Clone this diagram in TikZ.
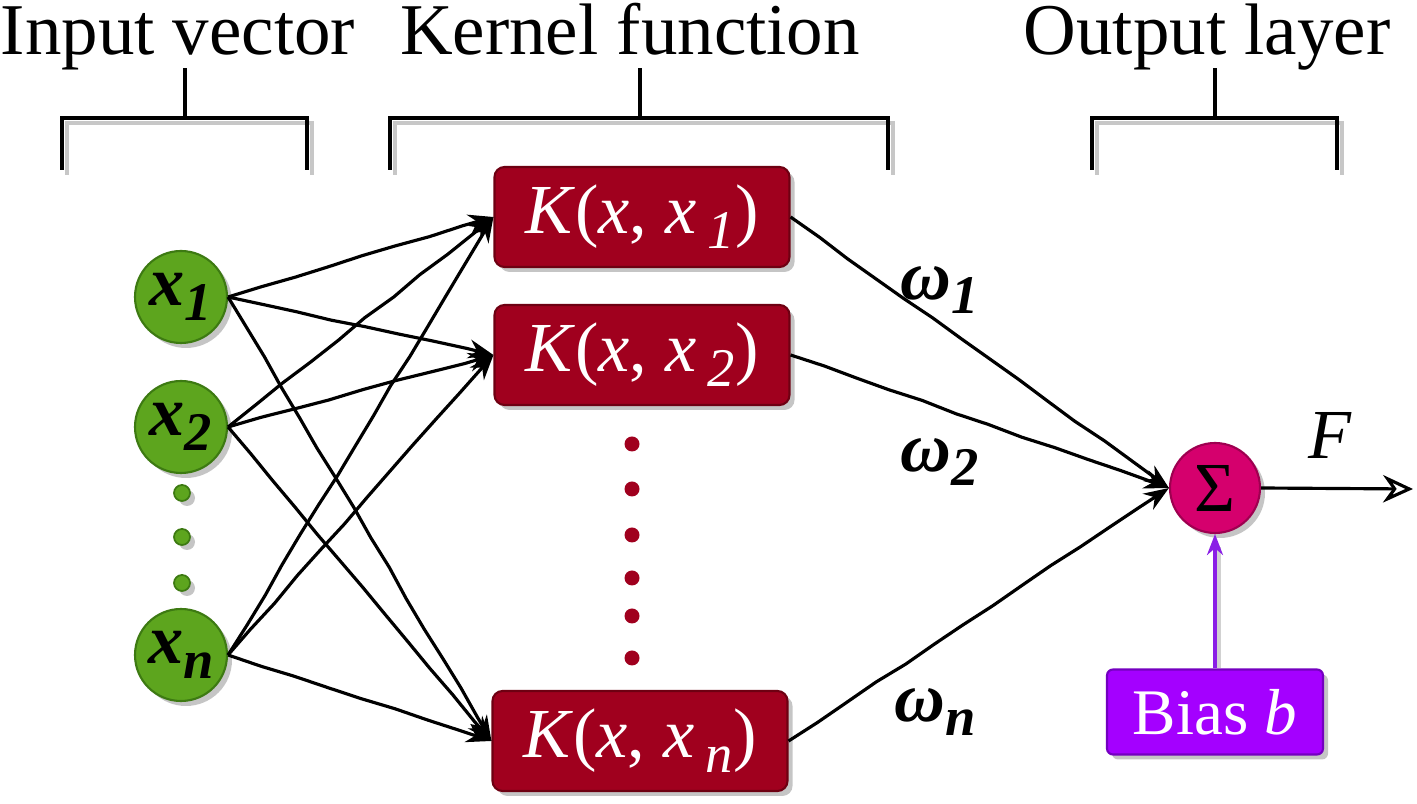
\documentclass[tikz,border=0pt]{standalone}
\usepackage{fontspec}
\setmainfont{LiberationSerif}[
  Extension=.ttf,
  UprightFont=*-Regular,
  BoldFont=*-Bold,
  ItalicFont=*-Italic,
  BoldItalicFont=*-BoldItalic]
\usetikzlibrary{arrows.meta,shadows,decorations.pathmorphing}

\definecolor{nodegreen}{HTML}{5DA51E}
\definecolor{greenline}{HTML}{3D7A12}
\definecolor{kernelred}{HTML}{A0001E}
\definecolor{kernelline}{HTML}{6E0012}
\definecolor{summagenta}{HTML}{D5006D}
\definecolor{sumline}{HTML}{9E0050}
\definecolor{biaspurple}{HTML}{A400FF}
\definecolor{biasline}{HTML}{7400C0}
\definecolor{biasarrow}{HTML}{8A1FE6}

\newcommand{\lowidx}[1]{\raisebox{-0.45ex}{\fontsize{31}{31}\selectfont #1}}

\tikzset{
  bigfont/.style={font=\fontsize{40}{44}\selectfont},
  title/.style={font=\fontsize{41.5}{44}\selectfont, anchor=base, inner sep=0pt},
  bracket/.style={line width=2.6pt},
  shade box/.style={drop shadow={shadow xshift=0.1cm, shadow yshift=-0.1cm, fill=black!45, opacity=.5}},
  inputnode/.style={circle, draw=greenline, fill=nodegreen, line width=1.2pt, minimum size=1.84cm, inner sep=0pt,
    bigfont, shade box},
  gdot/.style={circle, draw=greenline, fill=nodegreen, line width=1pt, minimum size=0.32cm, inner sep=0pt, shade box},
  kdot/.style={circle, fill=kernelred, minimum size=0.3cm, inner sep=0pt},
  kernel/.style={rectangle, rounded corners=0.2cm, draw=kernelline, fill=kernelred, line width=1.2pt,
    minimum width=5.9cm, minimum height=2cm, text=white, bigfont, shade box},
  sumnode/.style={circle, draw=sumline, fill=summagenta, line width=1.2pt, minimum size=1.8cm, inner sep=0pt,
    bigfont, shade box},
  biasbox/.style={rectangle, rounded corners=0.12cm, draw=biasline, fill=biaspurple, line width=1.2pt,
    minimum width=4.32cm, minimum height=1.7cm, text=white, font=\fontsize{37}{40}\selectfont, shade box},
  weight/.style={bigfont},
  edge/.style={line width=1.8pt, -{Stealth[length=0.5cm, width=0.38cm]},
    decorate, decoration={random steps, segment length=0.7cm, amplitude=0.5pt}},
}

\begin{document}
\pgfmathsetseed{7}
\begin{tikzpicture}
    \useasboundingbox (0,0) rectangle (28.34,16.08);

    % 标题
    \node[title] (tin) at (3.56,14.98) {Input vector};
    \node[title] (tker) at (12.6,14.98) {Kernel function};
    \node[title] (tout) at (24.14,14.98) {Output layer};

    % 括号
    \foreach \l/\m/\r in {1.24/3.7/6.14, 7.8/12.8/17.76, 21.84/24.3/26.74} {
        \draw[bracket, black!22] (\l+0.1,12.58) |- (\r+0.1,13.62) -- (\r+0.1,12.58);
        \draw[bracket] (\l,12.68) |- (\r,13.72) -- (\r,12.68);
        \draw[bracket] (\m,13.72) -- (\m,14.72);
    }

    % 输入层
    \node[inputnode] (x1) at (3.62,10.14) {\textbf{\textit{x}}\lowidx{\textbf{\textit{1}}}};
    \node[inputnode] (x2) at (3.62,7.54) {\textbf{\textit{x}}\lowidx{\textbf{\textit{2}}}};
    \node[inputnode] (xn) at (3.62,2.98) {\textbf{\textit{x}}\lowidx{\textbf{\textit{n}}}};
    \foreach \y [count=\i] in {6.22,5.34,4.42}
        \node[gdot] (gd\i) at (3.64,\y) {};

    % 核函数
    \node[kernel] (k1) at (12.84,11.74) {\textit{K}(\textit{x}, \textit{x}\,\lowidx{\textit{1}})};
    \node[kernel] (k2) at (12.84,8.98) {\textit{K}(\textit{x}, \textit{x}\,\lowidx{\textit{2}})};
    \node[kernel] (kn) at (12.8,1.26) {\textit{K}(\textit{x}, \textit{x}\,\lowidx{\textit{n}})};
    \foreach \y [count=\i] in {7.2,6.3,5.38,4.52,3.76,2.92}
        \node[kdot] (kd\i) at (12.64,\y) {};

    % 输出层
    \node[sumnode] (sum) at (24.3,6.32) {Σ};
    \node[biasbox] (bias) at (24.3,1.84) {Bias \textit{b}};
    \coordinate (out) at (28.26,6.3);
    \node[bigfont] (F) at (26.6,7.38) {\textit{F}};

    % 连线
    \foreach \s in {x1,x2,xn}
        \foreach \t in {k1,k2,kn}
            \draw[edge] (\s.east) -- (\t.west);
    \foreach \t in {k1,k2,kn}
        \draw[edge] (\t.east) -- (sum.west);
    \draw[line width=1.8pt, -{Stealth[open, length=0.6cm, width=0.55cm, line width=1.8pt]}] (sum.east) -- (out);
    \draw[line width=3pt, black!18] ([xshift=0.07cm]bias.north) -- ([xshift=0.07cm, yshift=-0.25cm]sum.south);
    \draw[line width=1.8pt, biasarrow, -{Stealth[length=0.42cm, width=0.32cm]}] (bias.north) -- (sum.south);

    % 权重
    \node[weight] (w1) at (18.8,10.28) {\textbf{\textit{ω}}\lowidx{\textbf{\textit{1}}}};
    \node[weight] (w2) at (18.8,6.84) {\textbf{\textit{ω}}\lowidx{\textbf{\textit{2}}}};
    \node[weight] (wn) at (18.7,1.84) {\textbf{\textit{ω}}\lowidx{\textbf{\textit{n}}}};
\end{tikzpicture}
\end{document}
